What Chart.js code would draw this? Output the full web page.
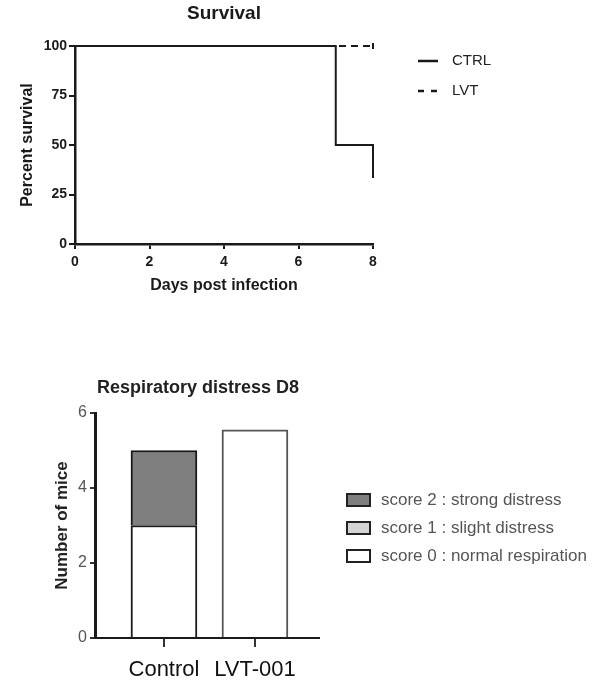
<!DOCTYPE html>
<html lang="en">
<head>
    <meta charset="UTF-8">
    <title>Survival and respiratory distress</title>
    <style>
        body { margin: 0; background: #fff; }
        #wrap { position: relative; width: 595px; height: 682px; }
        #survival { position: absolute; left: 0; top: 0; }
        #distress { position: absolute; left: 0; top: 370px; }
    </style>
</head>
<body>
<div id="wrap">
    <canvas id="survival" width="595" height="300"></canvas>
    <canvas id="distress" width="595" height="312"></canvas>
</div>

<script src="https://cdn.jsdelivr.net/npm/chart.js"></script>
<script>
    // survival curve (step points of the Kaplan-Meier plot)
    const ctrlDays = [0, 7, 7, 8, 8];
    const ctrlSurvival = [100, 100, 50, 50, 33.3];
    const lvtDays = [0, 8];
    const lvtSurvival = [100, 100];
    const dayTicks = [0, 2, 4, 6, 8];
    const survivalTicks = [0, 25, 50, 75, 100];

    // respiratory distress at day 8
    const groups = ['Control', 'LVT-001'];
    const score0 = [3, 5.55];
    const score1 = [0, 0];
    const score2 = [2, 0];
    const miceTicks = [0, 2, 4, 6];

    const FONT = "'Liberation Sans', Arial, Helvetica, sans-serif";

    // title centred over the plot area
    const plotTitle = {
        id: 'plotTitle',
        afterDraw(chart, args, opts) {
            const { ctx, chartArea } = chart;
            ctx.save();
            ctx.font = opts.font;
            ctx.fillStyle = opts.color;
            ctx.textAlign = 'center';
            ctx.textBaseline = 'middle';
            ctx.fillText(opts.text, (chartArea.left + chartArea.right) / 2 + (opts.dx || 0), opts.y);
            ctx.restore();
        }
    };

    // legend on the right side, built from the datasets
    const sideLegend = {
        id: 'sideLegend',
        afterDraw(chart, args, opts) {
            const ctx = chart.ctx;
            const sets = chart.data.datasets.slice();
            if (opts.reverse) sets.reverse();
            ctx.save();
            sets.forEach((ds, i) => {
                const y = opts.y + i * opts.gap;
                if (opts.kind === 'line') {
                    ctx.strokeStyle = ds.borderColor;
                    ctx.lineWidth = 2.5;
                    ctx.setLineDash(ds.borderDash ? [6, 7] : []);
                    ctx.beginPath();
                    ctx.moveTo(opts.x, y);
                    ctx.lineTo(opts.x + 20, y);
                    ctx.stroke();
                    ctx.setLineDash([]);
                } else {
                    ctx.fillStyle = ds.backgroundColor;
                    ctx.fillRect(opts.x, y - 6, 23, 12);
                    ctx.strokeStyle = '#222';
                    ctx.lineWidth = 2;
                    ctx.strokeRect(opts.x, y - 6, 23, 12);
                }
                ctx.font = opts.font;
                ctx.fillStyle = opts.color;
                ctx.textAlign = 'left';
                ctx.textBaseline = 'middle';
                ctx.fillText(ds.label, opts.textX, y);
            });
            ctx.restore();
        }
    };

    // ---- Survival ----
    new Chart(document.getElementById('survival'), {
        type: 'line',
        data: {
            datasets: [
                {
                    label: 'CTRL',
                    data: ctrlDays.map((d, i) => ({ x: d, y: ctrlSurvival[i] })),
                    borderColor: '#1a1a1a',
                    borderWidth: 2,
                    pointRadius: 0,
                    clip: false
                },
                {
                    label: 'LVT',
                    data: lvtDays.map((d, i) => ({ x: d, y: lvtSurvival[i] })),
                    borderColor: '#1a1a1a',
                    borderWidth: 2,
                    borderDash: [7, 5],
                    pointRadius: [0, 3],
                    pointStyle: 'line',
                    rotation: 90,
                    pointBorderColor: '#1a1a1a',
                    pointBorderWidth: 2,
                    clip: false
                }
            ]
        },
        options: {
            responsive: false,
            animation: false,
            layout: { padding: { top: 46, right: 222, left: 0, bottom: 0 } },
            plugins: {
                legend: { display: false },
                tooltip: { enabled: false },
                plotTitle: { text: 'Survival', font: 'bold 19px ' + FONT, color: '#1a1a1a', y: 14 },
                sideLegend: { kind: 'line', x: 418, y: 61, gap: 30, textX: 452, font: '15px ' + FONT, color: '#222' }
            },
            scales: {
                x: {
                    type: 'linear',
                    min: 0,
                    max: 8,
                    afterBuildTicks: s => { s.ticks = dayTicks.map(v => ({ value: v })); },
                    afterFit: s => { s.height = 56; },
                    border: { color: '#1a1a1a', width: 2.5 },
                    grid: { drawOnChartArea: false, color: '#1a1a1a', lineWidth: 2, tickLength: 5 },
                    ticks: { font: { family: FONT, size: 14, weight: 'bold' }, color: '#1a1a1a', padding: 5, maxRotation: 0 },
                    title: {
                        display: true, text: 'Days post infection', color: '#1a1a1a',
                        font: { family: FONT, size: 16, weight: 'bold' }, padding: { top: 0, bottom: 5 }
                    }
                },
                y: {
                    min: 0,
                    max: 100,
                    afterBuildTicks: s => { s.ticks = survivalTicks.map(v => ({ value: v })); },
                    afterFit: s => { s.width = 75; },
                    border: { color: '#1a1a1a', width: 2.5 },
                    grid: { drawOnChartArea: false, color: '#1a1a1a', lineWidth: 2, tickLength: 6 },
                    ticks: { font: { family: FONT, size: 14, weight: 'bold' }, color: '#1a1a1a', padding: 2 },
                    title: {
                        display: true, text: 'Percent survival', color: '#1a1a1a',
                        font: { family: FONT, size: 16, weight: 'bold' }, padding: { top: 18, bottom: 0 }
                    }
                }
            }
        },
        plugins: [plotTitle, sideLegend]
    });

    // ---- Respiratory distress D8 ----
    const barStyle = { borderColor: ['#1a1a1a', '#555'], borderWidth: 2, barThickness: 66 };

    new Chart(document.getElementById('distress'), {
        type: 'bar',
        data: {
            datasets: [
                Object.assign({ label: 'score 0 : normal respiration', data: score0.map((v, i) => ({ x: i + 1, y: v })), backgroundColor: '#ffffff' }, barStyle),
                Object.assign({ label: 'score 1 : slight distress', data: score1.map((v, i) => ({ x: i + 1, y: v })), backgroundColor: '#d4d4d4' }, barStyle),
                Object.assign({ label: 'score 2 : strong distress', data: score2.map((v, i) => ({ x: i + 1, y: v })), backgroundColor: '#7f7f7f' }, barStyle)
            ]
        },
        options: {
            responsive: false,
            animation: false,
            layout: { padding: { top: 43, right: 276, left: 0, bottom: 0 } },
            plugins: {
                legend: { display: false },
                tooltip: { enabled: false },
                plotTitle: { text: 'Respiratory distress D8', font: 'bold 18px ' + FONT, color: '#222', y: 18, dx: -9 },
                sideLegend: { kind: 'box', reverse: true, x: 347, y: 130, gap: 28, textX: 381, font: '17px ' + FONT, color: '#555' }
            },
            scales: {
                x: {
                    type: 'linear',
                    stacked: true,
                    offset: false,
                    min: 0.242,
                    max: 2.704,
                    afterBuildTicks: s => { s.ticks = groups.map((g, i) => ({ value: i + 1 })); },
                    afterFit: s => { s.height = 44; },
                    border: { color: '#1a1a1a', width: 2 },
                    grid: { offset: false, drawOnChartArea: false, color: '#333', lineWidth: 2, tickLength: 9 },
                    ticks: {
                        callback: v => groups[v - 1],
                        font: { family: FONT, size: 22 }, color: '#111', padding: 10, maxRotation: 0, autoSkip: false
                    }
                },
                y: {
                    stacked: true,
                    min: 0,
                    max: 6,
                    afterBuildTicks: s => { s.ticks = miceTicks.map(v => ({ value: v })); },
                    afterFit: s => { s.width = 95; },
                    border: { color: '#1a1a1a', width: 3 },
                    grid: { drawOnChartArea: false, color: '#333', lineWidth: 2, tickLength: 5 },
                    ticks: { font: { family: FONT, size: 16 }, color: '#555', padding: 3 },
                    title: {
                        display: true, text: 'Number of mice', color: '#222',
                        font: { family: FONT, size: 17, weight: 'bold' }, padding: { top: 52, bottom: 0 }
                    }
                }
            }
        },
        plugins: [plotTitle, sideLegend]
    });
</script>
</body>
</html>
